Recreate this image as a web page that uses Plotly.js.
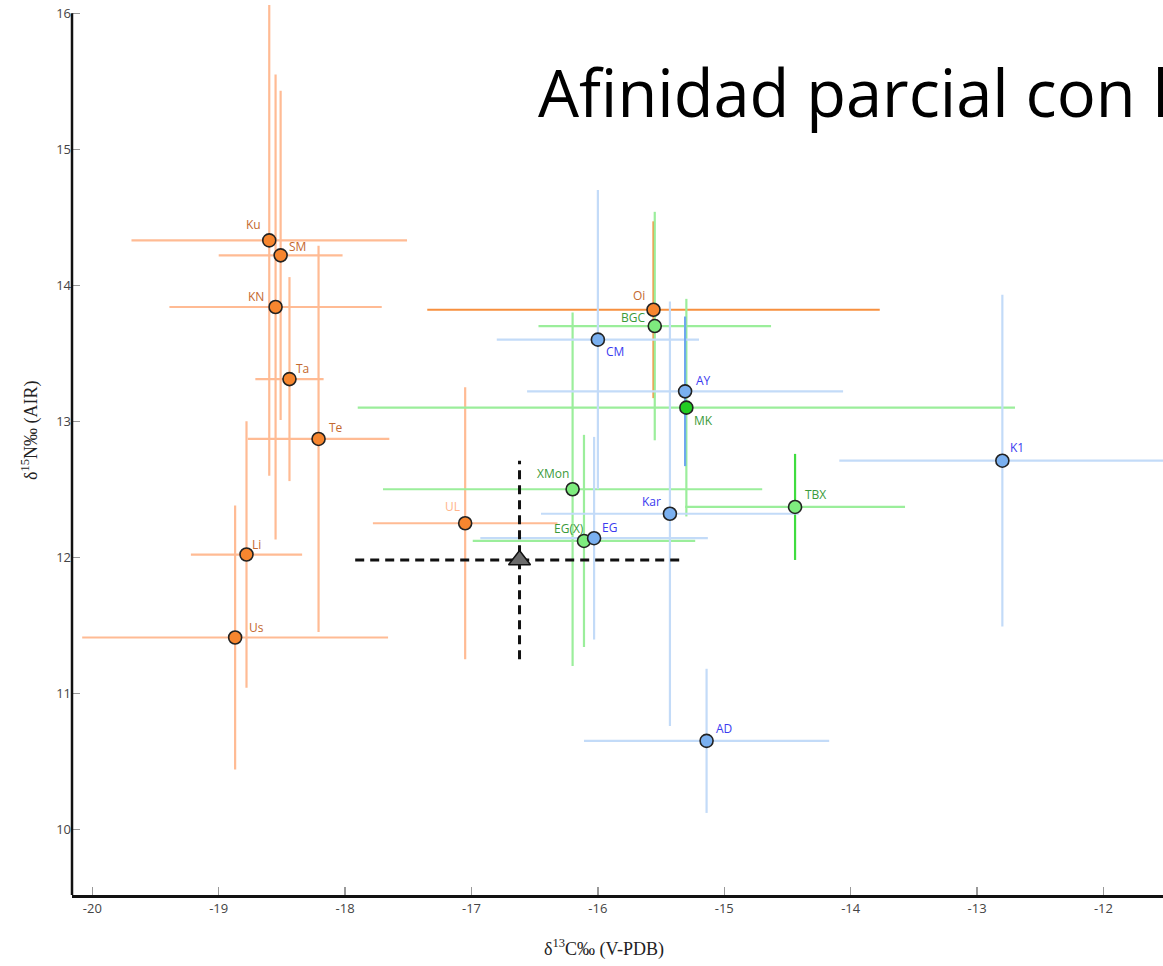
<!DOCTYPE html>
<html><head><meta charset="utf-8">
<script src="https://cdn.plot.ly/plotly-3.0.1.min.js"></script>
<style>html,body{margin:0;padding:0;background:#fff;} #chart{width:1163px;height:966px;}</style>
</head><body><div id="chart"></div>
<script>
// ---- data ----
const orangeNames = ['Ku','SM','KN','Ta','Te','Li','Us','UL','Oi'];
const orangeC     = [-18.60,-18.51,-18.55,-18.44,-18.21,-18.78,-18.87,-17.05,-15.56];
const orangeN     = [14.33,14.22,13.84,13.31,12.87,12.02,11.41,12.25,13.82];
const orangeCsd   = [1.09,0.49,0.84,0.27,0.56,0.44,1.21,0.73,1.79];
const orangeNsd   = [1.73,1.21,1.71,0.75,1.42,0.98,0.97,1.00,0.65];

const greenNames = ['BGC','MK','XMon','EG(X)','TBX'];
const greenC     = [-15.55,-15.30,-16.20,-16.11,-14.44];
const greenN     = [13.70,13.10,12.50,12.12,12.37];
const greenCsd   = [0.92,2.60,1.50,0.88,0.87];
const greenNsd   = [0.84,0.80,1.30,0.78,0.39];

const blueNames = ['CM','AY','Kar','EG','AD','K1'];
const blueC     = [-16.00,-15.31,-15.43,-16.03,-15.14,-12.80];
const blueN     = [13.60,13.22,12.32,12.14,10.65,12.71];
const blueCsd   = [0.80,1.25,1.02,0.90,0.97,1.29];
const blueNsd   = [1.10,0.55,1.56,0.745,0.53,1.22];

const refName = 'mean';
const refC = -16.62, refN = 11.98, refCsd = 1.30, refNsd = 0.73;

const xTicks = [-20,-19,-18,-17,-16,-15,-14,-13,-12];
const yTicks = [10,11,12,13,14,15,16];

// ---- styles ----
const groupStyle = {
  orange: {fill:'#f7862f', err:'#ffbb94', label:'#c4682e'},
  green:  {fill:'#7eec7e', err:'#9bee9b', label:'#3a9a3a'},
  blue:   {fill:'#7ab0f0', err:'#c3dbf8', label:'#3b3bef'}
};
const specialFill = {'MK':'#22cc22'};
const specialErrX = {'Oi':'#f7903f'};
const specialErrY = {'Oi':'#f7903f','AY':'#6ea8ee','TBX':'#3fdc3f'};
const specialLabel = {'UL':'#ffb48a'};
const labelShift = {
  'Ku':[-16,16],'SM':[17,9],'KN':[-20,11],'Ta':[13,11],'Te':[17,11],'Li':[10,10],'Us':[21,10],
  'UL':[-13,17],'Oi':[-15,14],'BGC':[-22,9],'MK':[17,-13],'XMon':[-20,16],'EG(X)':[-15,12],
  'TBX':[20,12],'CM':[17,-12],'AY':[18,11],'Kar':[-18,12],'EG':[15,11],'AD':[17,12],'K1':[15,13]
};
const drawOrder = ['orange','greenA','blue','greenB'];

// ---- build points ----
const pts = [];
function addGroup(g, names, C, N, Cs, Ns){
  names.forEach((n,i)=>pts.push({g, n, x:C[i], y:N[i], ex:Cs[i], ey:Ns[i]}));
}
addGroup('orange', orangeNames, orangeC, orangeN, orangeCsd, orangeNsd);
addGroup('green', greenNames, greenC, greenN, greenCsd, greenNsd);
addGroup('blue', blueNames, blueC, blueN, blueCsd, blueNsd);

const traces = [];
// error bars first
pts.forEach(p=>{
  const st = groupStyle[p.g];
  traces.push({
    type:'scatter', mode:'markers', x:[p.x], y:[p.y],
    marker:{size:1, color:'rgba(0,0,0,0)'},
    error_x:{type:'data', array:[p.ex], visible:true, color:specialErrX[p.n]||st.err, thickness:2.2, width:0},
    error_y:{type:'data', array:[p.ey], visible:true, color:specialErrY[p.n]||st.err, thickness:2.2, width:0},
    hoverinfo:'skip', showlegend:false
  });
});
// reference dashed cross
traces.push({type:'scatter', mode:'lines', x:[refC-refCsd, refC+refCsd], y:[refN, refN],
  line:{color:'#111', width:3, dash:'9px,6px'}, showlegend:false, hoverinfo:'skip'});
traces.push({type:'scatter', mode:'lines', x:[refC, refC], y:[refN-refNsd, refN+refNsd],
  line:{color:'#111', width:3, dash:'9px,6px'}, showlegend:false, hoverinfo:'skip'});
traces.push({type:'scatter', mode:'markers', x:[refC], y:[refN], name:refName,
  marker:{symbol:'triangle-up', size:19, color:'#6b6b6b', line:{color:'#111', width:1.5}}, showlegend:false});

// markers in order
function keyOf(p){ if(p.g==='green') return p.n==='MK' ? 'greenB' : 'greenA'; return p.g; }
drawOrder.forEach(k=>{
  pts.filter(p=>keyOf(p)===k).forEach(p=>{
    const st = groupStyle[p.g];
    traces.push({type:'scatter', mode:'markers', x:[p.x], y:[p.y], name:p.n,
      marker:{size:13, color:specialFill[p.n]||st.fill, line:{color:'#222', width:1.6}},
      showlegend:false});
  });
});

const annotations = pts.map(p=>({
  x:p.x, y:p.y, xref:'x', yref:'y', text:p.n, showarrow:false,
  xshift:labelShift[p.n][0], yshift:labelShift[p.n][1],
  font:{family:'Open Sans', size:12, color:specialLabel[p.n]||groupStyle[p.g].label}
}));
annotations.push({xref:'paper', yref:'paper', x:0.4876, y:-0.0592, yanchor:'middle', xanchor:'center',
  text:'δ<sup>13</sup>C‰ (V-PDB)', showarrow:false, font:{family:'Liberation Serif', size:18, color:'#222'}});
annotations.push({xref:'paper', yref:'paper', x:-0.0385, y:0.5196, yanchor:'middle', xanchor:'center', textangle:-90,
  text:'δ<sup>15</sup>N‰ (AIR)', showarrow:false, font:{family:'Liberation Serif', size:18, color:'#222'}});

const yMin = 9.5165, yMax = 16.0975;
const layout = {
  width:1163, height:966,
  margin:{l:72, r:0, t:0, b:71},
  paper_bgcolor:'#fff', plot_bgcolor:'#fff',
  showlegend:false,
  title:{text:'Afinidad parcial con l', font:{family:'Open Sans', size:65, color:'#000'},
    x:538/1163, xanchor:'left', xref:'container', y:1-71/966, yanchor:'top', yref:'container'},
  xaxis:{range:[-20.1606,-11.529], tickvals:xTicks, ticktext:xTicks.map(String),
    showgrid:false, zeroline:false, showline:true, linecolor:'#111', linewidth:2.5,
    ticks:'inside', ticklen:8, tickwidth:1.5, tickcolor:'#999',
    tickfont:{family:'Open Sans', size:13, color:'#444'}},
  yaxis:{range:[yMin,yMax], tickvals:yTicks, ticktext:yTicks.map(String),
    showgrid:false, zeroline:false, showline:false,
    ticks:'inside', ticklen:8, tickwidth:1.5, tickcolor:'#999',
    tickfont:{family:'Open Sans', size:13, color:'#444'}},
  shapes:[{type:'line', xref:'paper', yref:'y', x0:0, x1:0, y0:yMin, y1:16, line:{color:'#111', width:2.5}}],
  annotations
};
Plotly.newPlot('chart', traces, layout, {displayModeBar:false, staticPlot:true});
</script></body></html>
